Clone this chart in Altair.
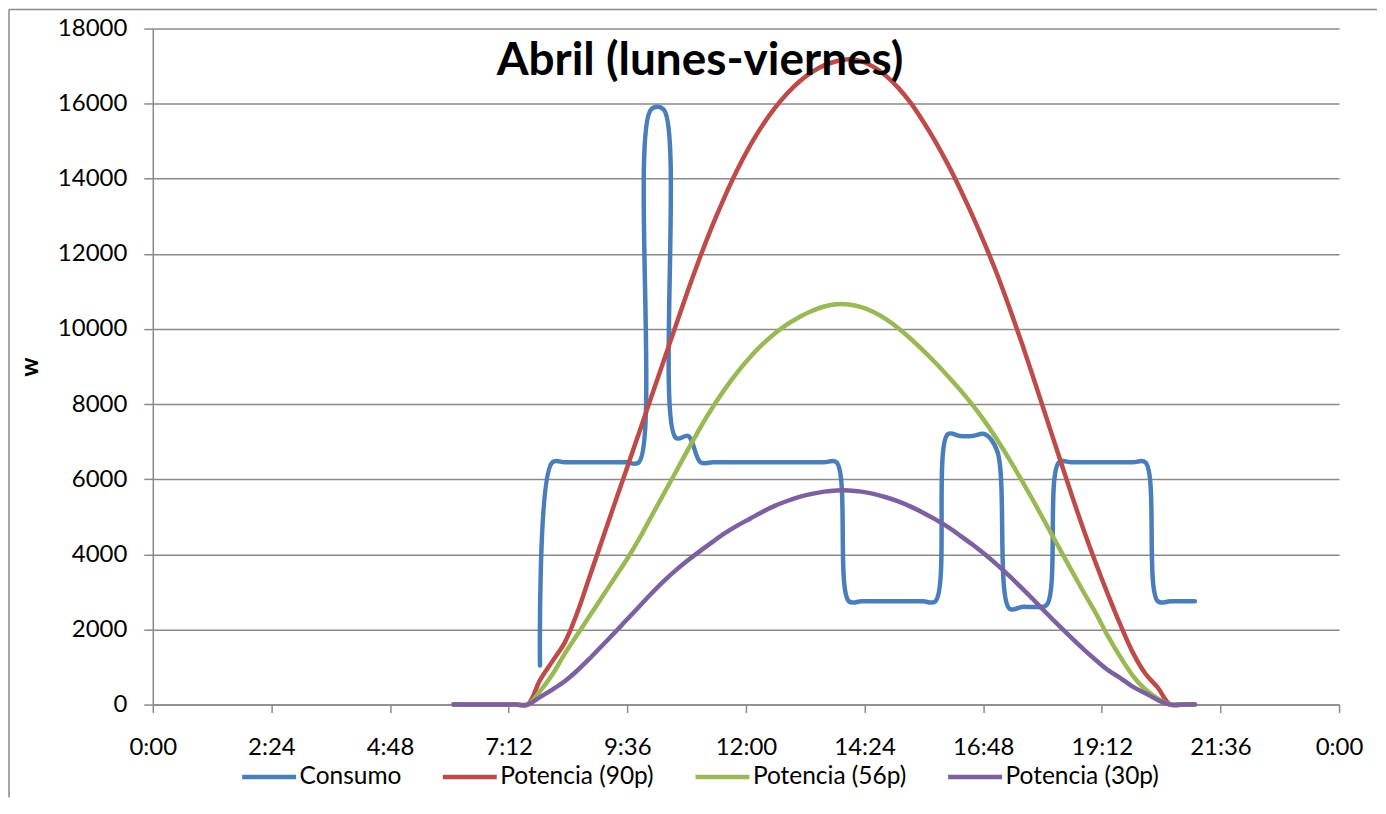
import json
import altair as alt
import pandas as pd

# ---------------- data ----------------
# sampling grid (15 min), 6:05 ... 21:05
grid_times = [f"{h}:{m:02d}" for h in range(6, 22) for m in (5, 20, 35, 50)][:61]

consumo_times = grid_times[7:]  # 7:50 ... 21:05
consumo = [
    1040, 6450, 6450, 6450, 6450, 6450, 6450, 6450, 6450,
    15850, 15850, 7100, 7150, 6450,
    6450, 6450, 6450, 6450, 6450, 6450, 6450, 6450, 6450, 6450,
    6450, 2750,
    2750, 2750, 2750, 2750, 2750, 2750,
    2750, 7200, 7150, 7150, 7200, 6750,
    2550, 2600, 2600, 2650, 6450,
    6450, 6450, 6450, 6450, 6450, 6450,
    6450, 2750, 2750, 2750, 2750,
]

pot_times = grid_times  # 6:05 ... 21:05
pot_90 = [0, 0, 0, 0, 0, 0, 0,
          650, 1150, 1650, 2430, 3390, 4350, 5310, 6260, 7220, 8180,
          9140, 10100, 11050, 11950, 12790, 13560, 14260, 14880, 15420, 15880,
          16270, 16590, 16840, 17020, 17130, 17180, 17130, 16980, 16740, 16420,
          16020, 15530, 14990, 14390, 13730, 13020, 12260, 11450, 10560, 9620,
          8630, 7620, 6610, 5610, 4650, 3750, 2900, 2100, 1370, 820, 450,
          0, 0, 0]
pot_56 = [0, 0, 0, 0, 0, 0, 0,
          350, 800, 1350, 1850, 2350, 2850, 3350, 3850, 4400, 5000,
          5600, 6200, 6800, 7390, 7930, 8420, 8860, 9250, 9590, 9880,
          10120, 10320, 10480, 10600, 10660, 10650, 10580, 10450, 10260, 10020,
          9740, 9430, 9100, 8750, 8380, 7980, 7540, 7050, 6520, 5960,
          5380, 4780, 4180, 3580, 2990, 2420, 1800, 1250, 760, 400, 160,
          0, 0, 0]
pot_30 = [0, 0, 0, 0, 0, 0, 0,
          200, 400, 620, 900, 1220, 1560, 1900, 2250, 2600, 2950,
          3280, 3580, 3850, 4100, 4340, 4570, 4770, 4950, 5130, 5290,
          5420, 5530, 5610, 5670, 5700, 5700, 5670, 5610, 5520, 5410,
          5270, 5110, 4930, 4730, 4500, 4260, 4000, 3720, 3420, 3100,
          2770, 2430, 2100, 1780, 1470, 1180, 910, 700, 470, 300, 120,
          0, 0, 0]

series_names = ["Consumo", "Potencia (90p)", "Potencia (56p)", "Potencia (30p)"]
series_colors = ["#4A7EBB", "#BE4B48", "#98B954", "#7D60A0"]

x_tick_labels = ["0:00", "2:24", "4:48", "7:12", "9:36", "12:00",
                 "14:24", "16:48", "19:12", "21:36", "0:00"]
y_ticks = [0, 2000, 4000, 6000, 8000, 10000, 12000, 14000, 16000, 18000]
title_text = "Abril (lunes-viernes)"


def to_hours(s):
    h, m = s.split(":")
    return int(h) + int(m) / 60.0


rows = []
for t, v in zip(consumo_times, consumo):
    rows.append({"hora": to_hours(t), "serie": series_names[0], "valor": v, "orden": 0})
for i, vals in enumerate([pot_90, pot_56, pot_30], start=1):
    for t, v in zip(pot_times, vals):
        rows.append({"hora": to_hours(t), "serie": series_names[i], "valor": v, "orden": i})
df = pd.DataFrame(rows)

W, H = 1188, 677
GRID = "#8a8a8a"
FONT = "Lato"
FS = 24

label_expr = json.dumps(x_tick_labels) + "[round(datum.value / 2.4)]"

lines = alt.Chart(df).mark_line(
    interpolate="catmull-rom", strokeWidth=4.5, strokeCap="round", strokeJoin="round"
).encode(
    x=alt.X(
        "hora:Q",
        scale=alt.Scale(domain=[0, 24], nice=False, zero=False),
        axis=alt.Axis(
            values=[i * 2.4 for i in range(11)],
            labelExpr=label_expr,
            title=None,
            grid=False,
            domainColor=GRID,
            domainWidth=1.5,
            tickColor=GRID,
            tickWidth=1.5,
            tickSize=8,
            labelFont=FONT,
            labelFontSize=FS,
            labelColor="black",
            labelPadding=23,
            labelFlush=False,
        ),
    ),
    y=alt.Y(
        "valor:Q",
        scale=alt.Scale(domain=[0, 18000], nice=False),
        axis=alt.Axis(
            values=y_ticks,
            format="d",
            title="w",
            titleFont=FONT,
            titleFontSize=FS,
            titleFontWeight="bold",
            titleColor="black",
            titlePadding=15,
            grid=True,
            gridColor=GRID,
            gridWidth=1.5,
            domainColor=GRID,
            domainWidth=1.5,
            tickColor=GRID,
            tickWidth=1.5,
            tickSize=9,
            labelFont=FONT,
            labelFontSize=FS,
            labelColor="black",
            labelPadding=17,
        ),
    ),
    color=alt.Color(
        "serie:N",
        scale=alt.Scale(domain=series_names, range=series_colors),
        legend=alt.Legend(
            orient="none",
            legendX=87,
            legendY=720,
            direction="horizontal",
            columns=4,
            symbolType="stroke",
            symbolSize=2916,
            symbolStrokeWidth=4.5,
            labelFont=FONT,
            labelFontSize=24.5,
            labelColor="black",
            labelOffset=1,
            columnPadding=32,
            labelLimit=400,
            title=None,
            padding=0,
        ),
    ),
    order=alt.Order("orden:Q"),
    detail="serie:N",
)

one = pd.DataFrame({"a": [0]})
border_left = alt.Chart(one).mark_rule(color=GRID, strokeWidth=1.5).encode(
    x=alt.value(-144), y=alt.value(-19), y2=alt.value(770)
)
border_top = alt.Chart(one).mark_rule(color=GRID, strokeWidth=1.5).encode(
    x=alt.value(-144), x2=alt.value(1226), y=alt.value(-19)
)
title = alt.Chart(one).mark_text(
    text=title_text, font=FONT, fontSize=46, fontWeight="bold",
    align="center", baseline="middle", color="black"
).encode(x=alt.value(548), y=alt.value(33))

chart = alt.layer(border_left, border_top, lines, title).properties(
    width=W, height=H, background="white", padding=0
).configure_view(stroke=None)

chart.save("out.html", embed_options={"renderer": "svg", "actions": False})
